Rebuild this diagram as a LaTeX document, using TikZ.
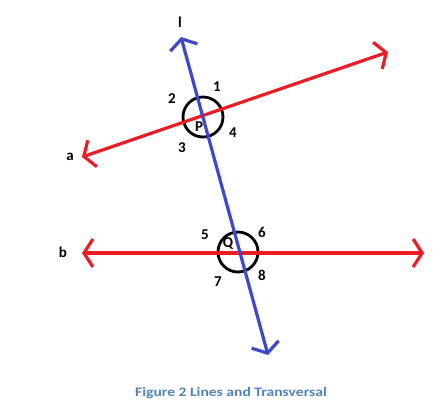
\documentclass[tikz,border=0pt]{standalone}
\usepackage{fontspec}
\setmainfont{Carlito}
\usetikzlibrary{arrows.meta}
\definecolor{linered}{HTML}{ED1C24}
\definecolor{lineblue}{HTML}{3F48CC}
\definecolor{captionblue}{HTML}{4F81BD}

\begin{document}
\begin{tikzpicture}[x=1pt,y=-1pt,
  line/.style={line width=3.2pt,{Straight Barb[length=9pt,width=28pt]}-{Straight Barb[length=9pt,width=28pt]}},
  ring/.style={draw=black,line width=2.8pt,circle,minimum size=40pt,inner sep=0pt},
  lab/.style={font=\bfseries\fontsize{15}{15}\selectfont,inner sep=1pt}]
\useasboundingbox (0,0) rectangle (439,416);
% end points of the three lines
\coordinate (a0) at (82,157);
\coordinate (a1) at (388,52);
\coordinate (b0) at (82,253);
\coordinate (b1) at (424,253);
\coordinate (l0) at (181,37);
\coordinate (l1) at (268,355);
% circles at the crossings
\node[ring] (P) at (203,117) {};
\node[ring] (Q) at (238,252) {};
\draw[line,linered] (a0) -- (a1);
\draw[line,linered] (b0) -- (b1);
\draw[line,lineblue] (l0) -- (l1);
% labels
\node[lab] (lname) at (180,22) {l};
\node[lab] (aname) at (70,157) {a};
\node[lab] (bname) at (63,252) {b};
\node[lab] (Pname) at (199,127) {P};
\node[lab] (Qname) at (228,244) {Q};
\foreach \x/\y/\lab in {217/87/1, 172/99/2, 182/148/3, 233/133/4, 205/235/5, 262/232/6, 218/282/7, 262/275/8} {
  \node[lab] at (\x,\y) {\lab};
}
\node[font=\bfseries\fontsize{13}{13}\selectfont,text=captionblue,transform shape,xscale=1.2] (caption) at (231,393) {Figure 2 Lines and Transversal};
\end{tikzpicture}
\end{document}
